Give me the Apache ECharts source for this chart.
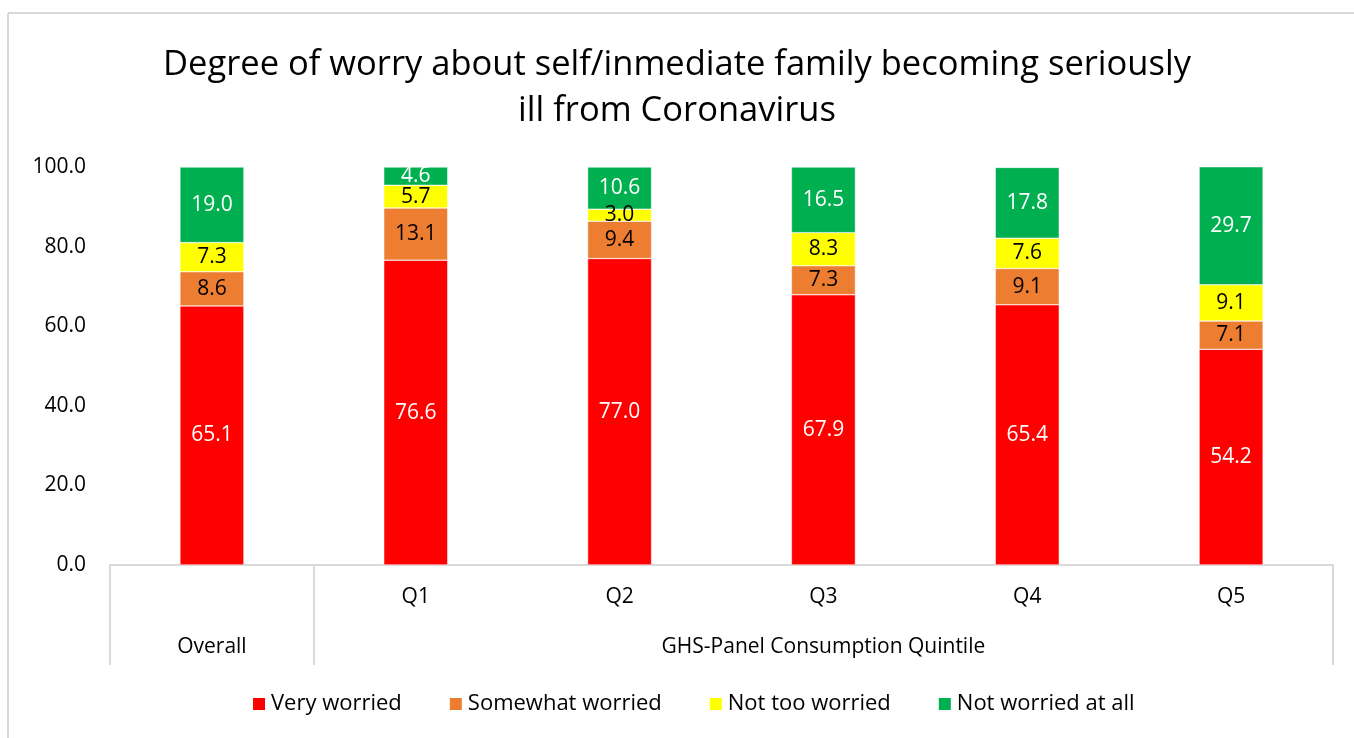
<!DOCTYPE html>
<html lang="en">
<head>
  <meta charset="UTF-8">
  <title>Degree of worry</title>
  <style>
    body{
      margin: 0;
      width: 100vw;
      height: 100vh;
      overflow: hidden;
      background-color: #fff;
    }
    #chart{
      width: 1354px;
      height: 738px;
    }
  </style>
</head>
<body>
  <div id="chart"></div>
  <script src="https://cdn.jsdelivr.net/npm/echarts@6/dist/echarts.min.js"></script>
  <script>
// data
const categories = ['Overall', 'Q1', 'Q2', 'Q3', 'Q4', 'Q5'];
const tickLabels = ['', 'Q1', 'Q2', 'Q3', 'Q4', 'Q5'];
const groupLabels = ['Overall', 'GHS-Panel Consumption Quintile'];
const groupCenters = [0.5, 3.5];
const groupEdges = [0, 1, 6];
const veryWorried = [65.1, 76.6, 77.0, 67.9, 65.4, 54.2];
const somewhatWorried = [8.6, 13.1, 9.4, 7.3, 9.1, 7.1];
const notTooWorried = [7.3, 5.7, 3.0, 8.3, 7.6, 9.1];
const notWorriedAtAll = [19.0, 4.6, 10.6, 16.5, 17.8, 29.7];

const font = 'Open Sans';
const gray = '#d9d9d9';

let chart = echarts.init(document.getElementById('chart'));

function barSeries(name, data, color, labelColor) {
  return {
    name: name,
    type: 'bar',
    stack: 'all',
    barWidth: 64,
    data: data,
    itemStyle: { color: color, borderColor: '#fff', borderWidth: 0.5 },
    label: {
      show: true,
      position: 'inside',
      color: labelColor,
      fontFamily: font,
      fontSize: 21,
      formatter: p => p.value.toFixed(1)
    }
  };
}

chart.setOption({
  animation: false,
  title: {
    text: 'Degree of worry about self/inmediate family becoming seriously\nill from Coronavirus',
    left: 'center',
    top: 37,
    textStyle: {
      fontFamily: font,
      fontWeight: 'normal',
      fontSize: 34.5,
      lineHeight: 46,
      color: '#000'
    }
  },
  graphic: [
    { type: 'line', shape: { x1: 8, y1: 13, x2: 1354, y2: 13 }, style: { stroke: gray, lineWidth: 2 } },
    { type: 'line', shape: { x1: 8, y1: 13, x2: 8, y2: 738 }, style: { stroke: gray, lineWidth: 2 } }
  ],
  legend: {
    bottom: 18,
    left: 246,
    itemWidth: 14,
    itemHeight: 14,
    itemGap: 46,
    icon: 'rect',
    textStyle: { fontFamily: font, fontSize: 22, color: '#000' }
  },
  grid: { left: 110, right: 21, top: 167, bottom: 173 },
  xAxis: [
    {
      type: 'category',
      data: categories,
      axisLine: { show: false },
      axisTick: { show: false },
      axisLabel: {
        margin: 22,
        fontFamily: font,
        fontSize: 21,
        color: '#000',
        formatter: (v, i) => tickLabels[i]
      }
    },
    {
      type: 'value',
      min: 0,
      max: 6,
      position: 'bottom',
      splitLine: { show: false },
      axisLine: { show: true, lineStyle: { color: gray, width: 2 } },
      axisTick: { show: true, customValues: groupEdges, length: 100, lineStyle: { color: gray, width: 2 } },
      axisLabel: {
        customValues: groupCenters,
        margin: 72,
        fontFamily: font,
        fontSize: 21,
        color: '#000',
        formatter: v => groupLabels[groupCenters.indexOf(v)]
      }
    }
  ],
  yAxis: {
    type: 'value',
    min: 0,
    max: 100,
    interval: 20,
    splitLine: { show: false },
    axisLine: { show: false },
    axisTick: { show: false },
    axisLabel: {
      margin: 24,
      fontFamily: font,
      fontSize: 21,
      color: '#000',
      formatter: v => v.toFixed(1)
    }
  },
  series: [
    barSeries('Very worried', veryWorried, '#ff0000', '#fff'),
    barSeries('Somewhat worried', somewhatWorried, '#ed7d31', '#000'),
    barSeries('Not too worried', notTooWorried, '#ffff00', '#000'),
    barSeries('Not worried at all', notWorriedAtAll, '#00b050', '#fff')
  ]
});
  </script>
</body>
</html>
